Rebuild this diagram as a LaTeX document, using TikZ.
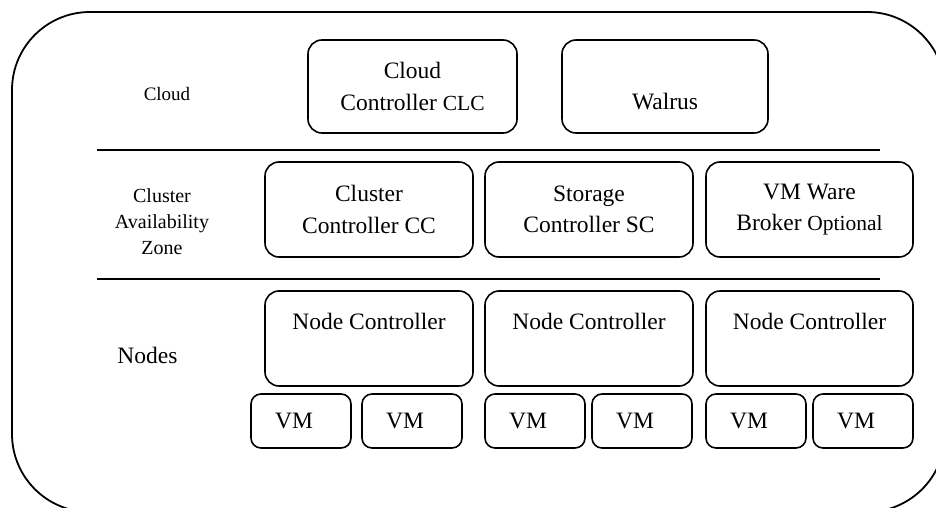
\documentclass[tikz,border=0pt]{standalone}
\usepackage{fontspec}
\setmainfont{Liberation Serif}
\begin{document}
\begin{tikzpicture}[x=1pt,y=-1pt,
  box/.style={draw, line width=1.6pt, rounded corners=14pt, inner sep=0pt, align=center,
    font=\fontsize{23.5}{31.5}\selectfont},
  bigbox/.style={box, minimum width=208pt, minimum height=94pt},
  vmbox/.style={box, rounded corners=10pt, minimum width=100pt, minimum height=54pt},
  txt/.style={inner sep=0pt, font=\fontsize{23.5}{31.5}\selectfont},
  lbl/.style={inner sep=0pt, align=center, font=\fontsize{20}{26}\selectfont},
  sep/.style={line width=1.4pt},
  small/.style={font=\fontsize{21.5}{26}\selectfont}]
\useasboundingbox (0,0) rectangle (936,508);
\begin{scope}
  \clip (0,0) rectangle (936,508);
  \draw[line width=1.8pt, rounded corners=78pt] (12,12) rectangle (945,512);
\end{scope}
% separators
\draw[sep] (97,150) -- (880,150);
\draw[sep] (97,279) -- (880,279);
% left labels
\node[lbl, font=\fontsize{19}{25}\selectfont] (lcloud) at (167,94) {Cloud};
\node[lbl] (lcluster) at (162,222) {Cluster\\Availability\\Zone};
\node[lbl, font=\fontsize{23.5}{30}\selectfont] (lnodes) at (147.5,355) {Nodes};
% cloud row
\node[bigbox, minimum width=209pt, minimum height=93pt] (clc) at (412.5,86.5)
  {Cloud\\Controller {\fontsize{21.5}{26}\selectfont CLC}};
\node[bigbox, minimum width=206pt, minimum height=93pt] (walrus) at (665,86.5) {};
\node[txt] (walrustxt) at ([yshift=-15pt]walrus.center) {Walrus};
% cluster row
\node[bigbox, minimum height=95pt] (cc) at (369,209.5) {Cluster\\Controller CC};
\node[bigbox, minimum height=95pt] (sc) at (589,209.5) {Storage\\Controller SC};
\node[bigbox, minimum width=207pt, minimum height=95pt] (vmw) at (809.5,209.5)
  {VM Ware\\Broker {\fontsize{21.5}{26}\selectfont Optional}};
% node controllers
\node[bigbox, minimum height=95pt] (nc1) at (369,338.5) {};
\node[bigbox, minimum height=95pt] (nc2) at (589,338.5) {};
\node[bigbox, minimum width=207pt, minimum height=95pt] (nc3) at (809.5,338.5) {};
\foreach \n in {nc1,nc2,nc3}{
  \node[txt] (\n txt) at ([yshift=-31pt]\n.north) {Node Controller};
}
% VMs
\node[vmbox] (vm1) at (301,421) {};
\node[vmbox] (vm2) at (412,421) {};
\node[vmbox] (vm3) at (535,421) {};
\node[vmbox] (vm4) at (642,421) {};
\node[vmbox] (vm5) at (756,421) {};
\node[vmbox] (vm6) at (863,421) {};
\foreach \v in {vm1,vm2,vm3,vm4,vm5,vm6}{
  \node[txt] (\v txt) at ([xshift=-7pt]\v.center) {VM};
}
\end{tikzpicture}
\end{document}
